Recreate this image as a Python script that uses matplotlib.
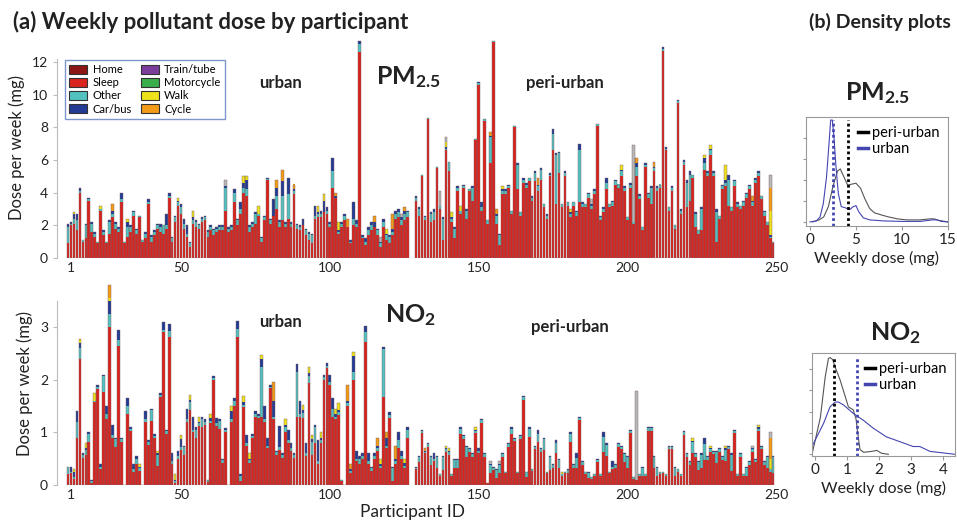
import matplotlib
matplotlib.use("Agg")
import matplotlib.pyplot as plt
from matplotlib.patches import Patch
from matplotlib.lines import Line2D
import numpy as np

plt.rcParams['font.family'] = ['Lato', 'DejaVu Sans']
plt.rcParams['mathtext.fontset'] = 'custom'
plt.rcParams['mathtext.rm'] = 'Lato'
plt.rcParams['mathtext.bf'] = 'Lato:bold'

# ---------------- data ----------------
categories = ['Home', 'Sleep', 'Other', 'Car/bus', 'Train/tube', 'Motorcycle', 'Walk', 'Cycle']
cat_colors = ['#8c1616', '#d9231f', '#52c2c0', '#223b95', '#7a3d9c', '#3aae4a', '#efe21c', '#f39b18']
grey_color = '#b8b8b8'

# bar slots on the participant axis (urban block, then peri-urban block)
urban_pos = np.arange(12, 127)
peri_pos = np.arange(129, 250)
tick_pos = [13, 50, 100, 150, 200, 250]
tick_lab = ['1', '50', '100', '150', '200', '250']

# PM2.5 weekly dose (mg), urban
pm_urb_total = [2.1, 2.2, 2.8, 2.7, 4.3, 1.1, 2.1, 3.7, 2.2, 1.6,
                1.0, 3.2, 1.7, 1.0, 2.3, 3.3, 2.2, 1.9, 4.0, 1.0,
                2.4, 2.0, 2.9, 1.8, 2.6, 1.1, 1.6, 3.6, 1.4, 1.7,
                2.1, 2.1, 2.0, 2.7, 4.0, 1.3, 2.6, 3.7, 3.3, 2.4,
                2.0, 1.0, 2.9, 2.3, 2.1, 2.5, 2.6, 1.7, 2.0, 1.8,
                1.9, 2.0, 2.0, 4.8, 1.9, 2.0, 4.2, 2.4, 3.4, 5.0,
                5.0, 2.0, 2.2, 2.8, 3.2, 1.3, 2.6, 4.9, 2.4, 3.6,
                4.8, 2.3, 5.4, 2.2, 4.9, 2.2, 4.5, 2.1, 2.0, 2.4,
                1.8, 1.6, 1.5, 3.2, 3.2, 2.9, 3.9, 3.1, 2.2, 6.1,
                4.0, 2.2, 2.2, 2.7, 2.4, 1.1, 3.4, 2.3, 13.3, 1.4,
                1.2, 1.9, 2.2, 2.6, 1.8, 1.3, 2.4, 1.8, 1.4, 2.7,
                2.9, 3.0, 2.7, 3.1, 2.9]
pm_urb_other = [1.0, 0.1, 0.3, 0.6, 0.1, 0.1, 0.8, 0.1, 0.5, 0.2,
                0.1, 0.1, 0.2, 0.1, 0.7, 0.2, 0.3, 0.2, 0.2, 0.1,
                0.6, 0.3, 0.2, 0.2, 0.1, 0.1, 0.3, 0.1, 0.3, 0.2,
                0.2, 0.3, 0.5, 0.2, 0.1, 0.2, 0.3, 0.2, 0.4, 0.3,
                0.2, 0.2, 0.2, 0.3, 0.2, 0.2, 0.2, 0.3, 0.2, 0.3,
                0.2, 0.2, 0.2, 1.4, 0.2, 0.2, 0.6, 0.3, 0.3, 0.3,
                0.4, 0.3, 0.2, 0.6, 0.1, 0.2, 0.2, 0.05, 0.2, 0.0,
                0.8, 0.3, 1.5, 0.2, 1.5, 0.2, 0.2, 0.2, 0.2, 0.0,
                0.3, 0.4, 0.5, 0.2, 0.2, 0.2, 0.0, 0.2, 0.2, 1.0,
                0.0, 0.1, 0.2, 0.3, 0.0, 0.1, 0.4, 0.2, 0.5, 0.1,
                0.2, 0.3, 0.3, 0.0, 0.3, 0.2, 0.3, 0.3, 0.4, 0.2,
                0.3, 0.3, 0.3, 0.4, 0.3]
pm_urb_car = [0.2, 0.1, 0.3, 0.4, 0.2, 0.0, 0.1, 0.1, 0.1, 0.1,
              0.0, 0.0, 0.1, 0.0, 0.1, 0.2, 0.1, 0.1, 0.4, 0.0,
              0.3, 0.1, 0.1, 0.1, 0.0, 0.0, 0.1, 0.2, 0.1, 0.1,
              0.1, 0.2, 0.0, 0.7, 0.2, 0.1, 0.1, 0.1, 0.2, 0.3,
              0.5, 0.1, 0.2, 0.1, 0.1, 0.1, 0.1, 0.1, 0.1, 0.1,
              0.1, 0.1, 0.1, 0.1, 0.1, 0.1, 0.2, 0.1, 0.4, 0.3,
              0.6, 0.1, 0.1, 0.1, 0.0, 0.1, 0.1, 0.05, 0.1, 1.0,
              0.5, 0.1, 0.9, 0.1, 1.0, 0.1, 0.1, 0.1, 0.1, 0.4,
              0.1, 0.1, 0.1, 0.6, 0.1, 0.2, 0.7, 0.2, 0.1, 0.8,
              0.1, 0.1, 0.1, 0.1, 0.0, 0.1, 1.0, 0.2, 0.2, 0.1,
              0.2, 0.2, 0.2, 0.3, 0.1, 0.1, 0.2, 0.1, 0.1, 0.2,
              0.2, 0.2, 0.2, 0.2, 0.1]
pm_urb_walk = {2: 0.1, 11: 0.2, 20: 0.2, 37: 0.2, 42: 0.4, 59: 0.4, 60: 0.2,
               64: 0.5, 84: 0.4, 86: 0.4, 91: 0.5, 107: 0.3}
pm_urb_cycle = {15: 0.4, 70: 0.5, 72: 0.7, 76: 0.3, 90: 0.2, 94: 0.5, 103: 0.4,
                109: 0.9, 113: 0.2}
pm_urb_grey = {53: 0.4, 105: 0.3, 112: 0.2}

# PM2.5 weekly dose (mg), peri-urban
pm_peri_total = [3.8, 3.1, 5.1, 2.6, 8.6, 2.8, 3.0, 5.6, 4.1, 2.5,
                 7.4, 5.9, 2.8, 1.9, 4.4, 3.2, 4.5, 3.0, 4.2, 4.4,
                 7.3, 10.8, 3.4, 8.5, 2.3, 7.7, 13.3, 3.0, 1.5, 4.4,
                 4.2, 4.5, 2.9, 8.1, 5.8, 2.8, 4.9, 4.6, 4.9, 3.8,
                 5.3, 4.9, 5.5, 3.3, 2.7, 5.2, 7.9, 6.4, 6.5, 3.3,
                 5.3, 3.4, 3.0, 3.4, 2.9, 7.0, 3.4, 3.3, 4.0, 3.6,
                 4.2, 8.2, 2.6, 3.1, 4.9, 3.3, 3.5, 4.8, 4.5, 5.7,
                 4.4, 2.5, 4.6, 6.9, 6.1, 3.9, 1.9, 5.8, 4.0, 4.4,
                 5.9, 4.4, 4.5, 12.9, 6.8, 3.1, 4.4, 2.0, 9.7, 3.0,
                 6.0, 4.8, 5.3, 5.1, 2.8, 1.7, 3.1, 6.3, 5.3, 6.9,
                 5.3, 3.0, 2.6, 4.5, 5.7, 5.1, 3.1, 4.8, 3.4, 3.2,
                 3.5, 4.0, 4.5, 3.8, 4.9, 5.3, 3.8, 2.9, 2.2, 5.1,
                 1.0]
pm_peri_other = [0.2, 0.4, 0.1, 0.2, 0.1, 0.5, 0.5, 0.1, 0.2, 1.3,
                 0.1, 0.6, 0.2, 0.6, 0.2, 0.2, 0.1, 0.5, 0.1, 0.8,
                 0.1, 0.1, 0.2, 0.1, 0.2, 1.6, 0.1, 0.5, 0.6, 0.2,
                 0.2, 0.1, 0.2, 0.1, 1.5, 0.2, 0.2, 0.2, 0.2, 0.2,
                 0.5, 0.3, 0.6, 0.2, 0.2, 0.1, 1.0, 3.0, 1.2, 0.2,
                 0.2, 0.2, 0.2, 0.2, 0.2, 3.2, 0.2, 0.2, 0.2, 0.2,
                 0.2, 0.1, 0.2, 0.2, 0.4, 0.2, 0.2, 0.2, 0.2, 0.3,
                 0.2, 0.2, 0.2, 0.1, 0.6, 0.2, 0.2, 0.1, 0.2, 1.0,
                 0.2, 0.2, 0.2, 0.1, 0.1, 0.2, 0.2, 0.2, 0.1, 0.2,
                 0.2, 1.5, 1.6, 0.2, 0.8, 0.2, 1.3, 0.4, 0.2, 0.3,
                 0.2, 1.8, 0.2, 0.2, 0.2, 1.6, 0.2, 0.3, 0.2, 0.2,
                 0.2, 0.2, 0.2, 0.2, 0.2, 0.2, 0.2, 0.2, 0.2, 0.1,
                 0.1]
pm_peri_car = [0.1, 0.1, 0.0, 0.1, 0.0, 0.1, 0.2, 0.0, 0.0, 0.1,
               0.1, 0.0, 0.1, 0.1, 0.1, 0.0, 0.1, 0.1, 0.0, 0.1,
               0.0, 0.1, 0.3, 0.0, 0.0, 0.1, 0.0, 0.1, 0.1, 0.1,
               0.1, 0.1, 0.0, 0.0, 0.1, 0.0, 0.1, 0.1, 0.0, 0.1,
               0.1, 0.1, 0.1, 0.0, 0.1, 0.1, 0.3, 0.1, 0.1, 0.0,
               0.1, 0.0, 0.1, 0.0, 0.1, 0.4, 0.1, 0.0, 0.1, 0.1,
               0.1, 0.0, 0.1, 0.1, 0.3, 0.0, 0.1, 0.1, 0.0, 0.1,
               0.1, 0.0, 0.1, 0.0, 0.2, 0.1, 0.0, 0.1, 0.1, 0.1,
               0.1, 0.1, 0.0, 0.1, 0.1, 0.0, 0.1, 0.0, 0.1, 0.1,
               0.1, 0.2, 0.2, 0.0, 0.1, 0.0, 0.1, 0.3, 0.1, 0.1,
               0.1, 0.2, 0.0, 0.1, 0.2, 0.3, 0.0, 0.1, 0.1, 0.0,
               0.1, 0.1, 0.1, 0.1, 0.1, 0.1, 0.0, 0.1, 0.0, 0.1,
               0.0]
pm_peri_walk = {10: 0.3, 12: 0.3, 15: 0.3, 29: 0.2, 52: 0.2, 69: 0.3, 97: 0.2,
                99: 0.2, 104: 0.9, 119: 1.5}
pm_peri_cycle = {25: 0.2, 27: 0.3, 41: 0.4, 74: 0.3, 80: 0.3, 113: 0.3, 119: 1.4}
pm_peri_grey = {8: 0.9, 10: 0.3, 59: 0.3, 73: 4.7, 119: 0.8}

# NO2 weekly dose (mg), urban (0 = no data)
no2_urb_total = [0.35, 0.35, 0.3, 1.4, 2.78, 0.6, 0.8, 1.0, 0.1, 1.75,
                 1.9, 0.4, 2.1, 1.5, 3.8, 1.15, 0.9, 2.95, 0.9, 0.0,
                 1.65, 1.1, 0.4, 0.55, 0.4, 0.0, 1.4, 0.85, 1.45, 0.97,
                 0.65, 1.75, 3.1, 1.05, 3.07, 0.6, 0.2, 0.65, 0.95, 0.75,
                 1.45, 1.72, 1.3, 1.1, 1.3, 1.3, 1.25, 0.1, 1.35, 2.07,
                 1.28, 1.25, 0.5, 1.08, 0.0, 1.5, 1.65, 3.12, 0.2, 1.7,
                 0.95, 0.6, 0.97, 1.4, 1.35, 2.48, 1.5, 0.9, 1.9, 1.95,
                 0.65, 1.12, 0.6, 1.25, 1.05, 0.8, 0.6, 2.3, 1.6, 1.52,
                 0.8, 2.25, 0.95, 1.15, 0.85, 1.0, 2.1, 2.32, 2.1, 1.65,
                 1.45, 1.55, 0.1, 0.0, 1.9, 0.4, 2.52, 0.65, 0.55, 0.6,
                 3.02, 0.6, 0.35, 0.6, 0.9, 0.5, 2.63, 1.0, 1.38, 0.35,
                 0.75, 1.0, 0.65, 0.5, 1.1]
no2_urb_other = [0.15, 0.03, 0.03, 0.3, 0.2, 0.05, 0.1, 0.15, 0.03, 0.03,
                 0.05, 0.05, 0.3, 0.1, 0.25, 0.05, 0.15, 0.1, 0.05, 0.0,
                 0.15, 0.05, 0.05, 0.1, 0.05, 0.0, 0.05, 0.05, 0.2, 0.05,
                 0.2, 0.05, 0.05, 0.05, 0.1, 0.05, 0.03, 0.05, 0.05, 0.15,
                 0.05, 0.15, 0.05, 0.15, 0.05, 0.15, 0.05, 0.05, 0.05, 0.05,
                 0.05, 0.15, 0.05, 0.05, 0.0, 0.05, 0.1, 0.15, 0.1, 0.05,
                 0.05, 0.05, 0.05, 0.05, 0.05, 0.95, 0.05, 0.05, 0.03, 0.05,
                 0.05, 0.05, 0.05, 0.1, 0.05, 0.05, 0.05, 0.85, 0.05, 0.1,
                 0.05, 0.15, 0.25, 0.3, 0.05, 0.05, 0.05, 0.05, 0.05, 0.15,
                 0.05, 0.05, 0.03, 0.0, 0.05, 0.05, 0.15, 0.05, 0.1, 0.05,
                 0.18, 0.05, 0.05, 0.05, 0.05, 0.05, 0.9, 0.05, 0.05, 0.25,
                 0.05, 0.15, 0.05, 0.05, 0.15]
no2_urb_car = [0.0, 0.1, 0.1, 0.2, 0.1, 0.03, 0.03, 0.03, 0.03, 0.0,
               0.03, 0.05, 0.03, 0.15, 0.25, 0.2, 0.03, 0.2, 0.03, 0.0,
               0.15, 0.03, 0.1, 0.05, 0.03, 0.0, 0.15, 0.03, 0.03, 0.03,
               0.03, 0.03, 0.15, 0.03, 0.15, 0.15, 0.03, 0.1, 0.15, 0.03,
               0.2, 0.05, 0.25, 0.05, 0.03, 0.05, 0.05, 0.0, 0.05, 0.03,
               0.1, 0.03, 0.03, 0.03, 0.0, 0.15, 0.05, 0.15, 0.03, 0.05,
               0.15, 0.03, 0.03, 0.05, 0.03, 0.15, 0.25, 0.15, 0.03, 0.3,
               0.03, 0.4, 0.03, 0.05, 0.2, 0.1, 0.03, 0.15, 0.25, 0.05,
               0.2, 0.05, 0.05, 0.05, 0.4, 0.05, 0.05, 0.05, 0.15, 0.2,
               0.05, 0.05, 0.0, 0.0, 0.05, 0.03, 0.3, 0.15, 0.05, 0.05,
               0.12, 0.15, 0.03, 0.05, 0.05, 0.03, 0.05, 0.15, 0.05, 0.03,
               0.05, 0.15, 0.1, 0.05, 0.05]
no2_urb_walk = {2: 0.05, 4: 0.08, 6: 0.1, 9: 0.15, 14: 0.05, 24: 0.05, 30: 0.05,
                36: 0.1, 38: 0.08, 41: 0.1, 44: 0.1, 48: 0.08, 55: 0.1, 59: 0.12,
                61: 0.1, 65: 0.08, 73: 0.1, 79: 0.1, 81: 0.12, 82: 0.08, 85: 0.1,
                90: 0.1, 91: 0.12, 96: 0.07, 105: 0.1, 113: 0.08}
no2_urb_cycle = {14: 0.25, 69: 0.35, 94: 0.3, 95: 0.1, 104: 0.15, 107: 0.1, 110: 0.25}
no2_urb_grey = {}

# NO2 weekly dose (mg), peri-urban
no2_peri_total = [0.35, 0.55, 1.05, 0.7, 0.8, 0.55, 0.6, 0.55, 0.2, 0.55,
                  0.75, 0.7, 0.2, 0.5, 0.5, 1.1, 0.95, 0.75, 0.7, 0.6,
                  1.1, 0.7, 1.25, 0.6, 0.03, 0.45, 0.35, 0.3, 0.45, 0.6,
                  0.25, 0.8, 1.1, 0.9, 0.25, 0.95, 1.7, 0.25, 1.1, 0.3,
                  0.75, 1.05, 0.7, 0.9, 0.25, 0.55, 0.4, 0.85, 0.5, 0.25,
                  0.25, 0.3, 1.0, 0.4, 0.6, 1.3, 0.45, 0.25, 0.25, 0.15,
                  0.2, 0.5, 0.2, 1.0, 0.8, 0.25, 0.45, 0.4, 0.8, 0.75,
                  0.6, 0.55, 1.05, 0.15, 1.78, 0.2, 0.35, 0.2, 1.1, 1.1,
                  0.55, 0.35, 0.25, 0.25, 0.2, 0.75, 0.75, 0.35, 0.3, 0.2,
                  1.03, 0.6, 0.45, 0.9, 0.6, 0.45, 0.6, 0.9, 0.55, 0.75,
                  0.65, 0.65, 0.7, 0.55, 0.75, 0.75, 0.6, 1.05, 0.2, 0.6,
                  0.2, 0.35, 0.45, 0.75, 0.5, 1.15, 0.75, 0.45, 0.55, 1.0,
                  0.55]
no2_peri_other = [0.03, 0.1, 0.05, 0.03, 0.05, 0.15, 0.05, 0.2, 0.03, 0.25,
                  0.05, 0.05, 0.03, 0.15, 0.15, 0.1, 0.05, 0.2, 0.05, 0.05,
                  0.05, 0.05, 0.05, 0.05, 0.0, 0.15, 0.05, 0.15, 0.15, 0.05,
                  0.03, 0.05, 0.1, 0.05, 0.03, 0.05, 0.05, 0.1, 0.15, 0.03,
                  0.05, 0.15, 0.05, 0.2, 0.03, 0.25, 0.05, 0.2, 0.15, 0.03,
                  0.03, 0.05, 0.15, 0.05, 0.2, 0.05, 0.05, 0.05, 0.1, 0.03,
                  0.03, 0.05, 0.03, 0.3, 0.2, 0.03, 0.05, 0.05, 0.05, 0.05,
                  0.15, 0.2, 0.05, 0.03, 0.0, 0.03, 0.15, 0.03, 0.05, 0.05,
                  0.2, 0.15, 0.05, 0.03, 0.03, 0.05, 0.05, 0.15, 0.05, 0.03,
                  0.05, 0.05, 0.05, 0.2, 0.05, 0.15, 0.25, 0.3, 0.05, 0.05,
                  0.05, 0.2, 0.05, 0.05, 0.2, 0.05, 0.3, 0.05, 0.03, 0.05,
                  0.03, 0.15, 0.05, 0.05, 0.05, 0.05, 0.05, 0.05, 0.2, 0.05,
                  0.3]
no2_peri_car = [0.02, 0.02, 0.02, 0.02, 0.02, 0.02, 0.1, 0.02, 0.0, 0.02,
                0.02, 0.02, 0.0, 0.02, 0.02, 0.03, 0.02, 0.02, 0.02, 0.02,
                0.02, 0.05, 0.02, 0.02, 0.0, 0.02, 0.02, 0.02, 0.02, 0.02,
                0.0, 0.02, 0.03, 0.02, 0.0, 0.02, 0.03, 0.0, 0.03, 0.0,
                0.02, 0.08, 0.02, 0.03, 0.0, 0.02, 0.02, 0.05, 0.02, 0.0,
                0.0, 0.02, 0.03, 0.02, 0.08, 0.02, 0.02, 0.0, 0.02, 0.0,
                0.0, 0.02, 0.0, 0.08, 0.04, 0.0, 0.1, 0.02, 0.02, 0.02,
                0.02, 0.02, 0.02, 0.0, 0.0, 0.0, 0.02, 0.0, 0.02, 0.02,
                0.02, 0.02, 0.0, 0.0, 0.0, 0.02, 0.02, 0.02, 0.0, 0.0,
                0.02, 0.02, 0.02, 0.03, 0.02, 0.02, 0.03, 0.12, 0.02, 0.02,
                0.02, 0.03, 0.02, 0.02, 0.04, 0.02, 0.03, 0.02, 0.0, 0.02,
                0.0, 0.02, 0.02, 0.02, 0.02, 0.03, 0.02, 0.02, 0.02, 0.0,
                0.02]
no2_peri_walk = {10: 0.05, 11: 0.06, 20: 0.05, 49: 0.04, 93: 0.06, 99: 0.05,
                 104: 0.05, 115: 0.05, 119: 0.2}
no2_peri_cycle = {3: 0.05, 119: 0.4}
no2_peri_grey = {25: 0.05, 28: 0.05, 74: 1.68, 113: 0.05, 119: 0.1}

# density curves, peak scaled to 1
pm_urb_dx = [0, 0.7, 1.1, 1.45, 1.8, 2.07, 2.25, 2.43, 2.6, 2.83, 3.08, 3.4, 3.8,
             4.3, 4.7, 5.0, 5.3, 5.8, 6.5, 8, 10, 12, 13.3, 13.8, 14.3, 15]
pm_urb_dy = [0, 0.01, 0.05, 0.18, 0.44, 0.77, 1.0, 1.0, 0.84, 0.54, 0.28, 0.15, 0.14,
             0.12, 0.15, 0.16, 0.10, 0.04, 0.02, 0.01, 0.005, 0.005, 0.02, 0.02, 0.005, 0]
pm_peri_dx = [0.3, 1.0, 1.5, 2.0, 2.5, 3.0, 3.3, 3.7, 4.1, 4.5, 5.0, 5.5, 6.0, 6.5,
              7.0, 7.7, 8.5, 9.5, 10.5, 12, 13, 13.5, 14, 15]
pm_peri_dy = [0, 0.02, 0.05, 0.15, 0.35, 0.5, 0.52, 0.44, 0.36, 0.37, 0.38, 0.33,
              0.22, 0.13, 0.09, 0.07, 0.05, 0.03, 0.02, 0.02, 0.03, 0.03, 0.015, 0]
no2_peri_dx = [-0.08, 0.18, 0.33, 0.43, 0.48, 0.56, 0.64, 0.79, 0.95, 1.05, 1.2,
               1.29, 1.33, 1.41, 1.52, 1.78, 1.93, 2.08, 2.29]
no2_peri_dy = [0.0, 0.38, 0.8, 0.99, 1.0, 0.98, 0.9, 0.77, 0.6, 0.49, 0.46, 0.36,
               0.24, 0.05, 0.02, 0.03, 0.04, 0.01, 0.0]
no2_urb_dx = [-0.08, 0.28, 0.48, 0.64, 0.74, 0.9, 1.21, 1.52, 1.82, 2.23, 2.65,
              3.06, 3.27, 3.58, 4.09, 4.35]
no2_urb_dy = [0.08, 0.32, 0.49, 0.54, 0.54, 0.51, 0.42, 0.35, 0.27, 0.18, 0.13,
              0.08, 0.08, 0.03, 0.01, 0.0]
pm_medians = {'peri-urban': 4.15, 'urban': 2.55}
no2_medians = {'peri-urban': 0.59, 'urban': 1.33}

URBAN_BLUE = '#4446b0'
PERI_GREY = '#555555'

W, H = 957, 524
fig = plt.figure(figsize=(W / 100, H / 100), dpi=100)


def px_axes(left, top, right, bottom):
    return fig.add_axes([left / W, 1 - bottom / H, (right - left) / W, (bottom - top) / H])


def fig_text(x, y, s, **kw):
    fig.text(x / W, 1 - y / H, s, **kw)


def stacked(ax, pos, total, other, car, walk, cycle, grey):
    n = len(total)
    total = np.array(total)
    other = np.array(other)
    car = np.array(car)
    w = np.array([walk.get(i, 0.0) for i in range(n)])
    c = np.array([cycle.get(i, 0.0) for i in range(n)])
    g = np.array([grey.get(i, 0.0) for i in range(n)])
    red = total - other - car - w - c - g
    bottom = np.zeros(n)
    for vals, col in [(red, cat_colors[1]), (other, cat_colors[2]), (car, cat_colors[3]),
                      (w, cat_colors[6]), (c, cat_colors[7]), (g, grey_color)]:
        ax.bar(pos, vals, bottom=bottom, width=0.9, color=col, linewidth=0)
        bottom += vals
    ax.bar(pos, total, width=0.9, fill=False, edgecolor='#7a6060', linewidth=0.3)


def style_bar_axes(ax, ymax, yticks, spine_top):
    ax.set_xlim(8.3, 251.3)
    ax.set_ylim(0, ymax)
    for s in ['top', 'right', 'bottom']:
        ax.spines[s].set_visible(False)
    ax.spines['left'].set_color('#bbbbbb')
    ax.spines['left'].set_linewidth(0.8)
    ax.spines['left'].set_bounds(0, spine_top)
    ax.set_yticks(yticks)
    ax.set_xticks(tick_pos)
    ax.set_xticklabels(tick_lab)
    ax.tick_params(axis='x', length=0, pad=3, labelsize=10, labelcolor='#222222')
    ax.tick_params(axis='y', length=3, color='#bbbbbb', labelsize=10, labelcolor='#222222')
    ax.set_ylabel('Dose per week (mg)', fontsize=12, color='#222222', labelpad=5)


# ---- PM2.5 bars ----
ax1 = px_axes(57, 37.5, 780, 258)
stacked(ax1, urban_pos, pm_urb_total, pm_urb_other, pm_urb_car, pm_urb_walk, pm_urb_cycle, pm_urb_grey)
stacked(ax1, peri_pos, pm_peri_total, pm_peri_other, pm_peri_car, pm_peri_walk, pm_peri_cycle, pm_peri_grey)
style_bar_axes(ax1, 13.5, [0, 2, 4, 6, 8, 10, 12], 12.2)

handles = [Patch(facecolor=cat_colors[i], edgecolor='#333333', linewidth=0.8, label=categories[i])
           for i in range(8)]
leg = ax1.legend(handles=handles, ncol=2, loc='upper left', bbox_to_anchor=(0.011, 0.9),
                 borderaxespad=0, fontsize=8, frameon=True, fancybox=False,
                 handlelength=1.6, handleheight=0.85, labelspacing=0.2,
                 columnspacing=0.8, handletextpad=0.5, borderpad=0.4)
leg.get_frame().set_edgecolor('#5b7fbf')
leg.get_frame().set_linewidth(1.0)

# ---- NO2 bars ----
ax2 = px_axes(57, 282.5, 780, 485)
stacked(ax2, urban_pos, no2_urb_total, no2_urb_other, no2_urb_car, no2_urb_walk, no2_urb_cycle, no2_urb_grey)
stacked(ax2, peri_pos, no2_peri_total, no2_peri_other, no2_peri_car, no2_peri_walk, no2_peri_cycle, no2_peri_grey)
style_bar_axes(ax2, 3.85, [0, 1, 2, 3], 3.5)

# ---- labels on panel (a) ----
fig_text(13, 22, '(a) Weekly pollutant dose by participant', fontsize=16, fontweight='bold',
         color='#222222', ha='left', va='center')
fig_text(951, 22, '(b) Density plots', fontsize=14, fontweight='bold', color='#222222',
         ha='right', va='center')
fig_text(280, 83, 'urban', fontsize=12, fontweight='bold', color='#222222', ha='center', va='center')
fig_text(565, 83, 'peri-urban', fontsize=12, fontweight='bold', color='#222222', ha='center', va='center')
fig_text(408, 77, r'$\mathbf{PM_{2.5}}$', fontsize=18, color='#222222', ha='center', va='center')
fig_text(280, 322, 'urban', fontsize=12, fontweight='bold', color='#222222', ha='center', va='center')
fig_text(570, 327, 'peri-urban', fontsize=12, fontweight='bold', color='#222222', ha='center', va='center')
fig_text(410, 315, r'$\mathbf{NO_2}$', fontsize=18, color='#222222', ha='center', va='center')
fig_text(413, 512, 'Participant ID', fontsize=12.5, color='#222222', ha='center', va='center')


# ---- density plots ----
def density(ax, ux, uy, gx, gy, med, xlim, ylim, xticks, yticks):
    ax.plot(gx, gy, color=PERI_GREY, linewidth=0.8)
    ax.plot(ux, uy, color=URBAN_BLUE, linewidth=0.8)
    ax.plot([med['peri-urban']] * 2, [ylim[0], 1.0], color='black', linewidth=2.0,
            linestyle=(0, (1, 1)))
    ax.plot([med['urban']] * 2, [ylim[0], 1.0], color=URBAN_BLUE, linewidth=2.0,
            linestyle=(0, (1, 1)))
    ax.set_xlim(*xlim)
    ax.set_ylim(*ylim)
    ax.set_xticks(xticks)
    ax.set_yticks(yticks)
    ax.set_yticklabels([])
    for s in ax.spines.values():
        s.set_color('#999999')
        s.set_linewidth(0.8)
    ax.tick_params(axis='x', length=3, color='#999999', labelsize=11, labelcolor='#222222', pad=2)
    ax.tick_params(axis='y', length=2.5, color='#999999')
    ax.set_xlabel('Weekly dose (mg)', fontsize=11.5, color='#222222', labelpad=3)
    hl = [Line2D([], [], color='black', linewidth=2.5, label='peri-urban'),
          Line2D([], [], color=URBAN_BLUE, linewidth=2.5, label='urban')]
    ax.legend(handles=hl, loc='upper right', fontsize=10.5, frameon=False, handlelength=0.7,
              handletextpad=0.25, labelspacing=0.15, borderaxespad=0.2)


ax3 = px_axes(806, 117, 948, 226)
density(ax3, pm_urb_dx, pm_urb_dy, pm_peri_dx, pm_peri_dy, pm_medians,
        (-0.43, 15.0), (-0.04, 1.03), [0, 5, 10, 15], [0, 0.207, 0.414, 0.621, 0.828])
fig_text(877, 93, r'$\mathbf{PM_{2.5}}$', fontsize=18, color='#222222', ha='center', va='center')

ax4 = px_axes(812, 353, 955, 456)
density(ax4, no2_urb_dx, no2_urb_dy, no2_peri_dx, no2_peri_dy, no2_medians,
        (-0.08, 4.36), (-0.018, 1.047), [0, 1, 2, 3, 4], [0, 0.22, 0.44, 0.66, 0.88])
fig_text(895, 333, r'$\mathbf{NO_2}$', fontsize=18, color='#222222', ha='center', va='center')

fig.savefig('out.png', dpi=100)
